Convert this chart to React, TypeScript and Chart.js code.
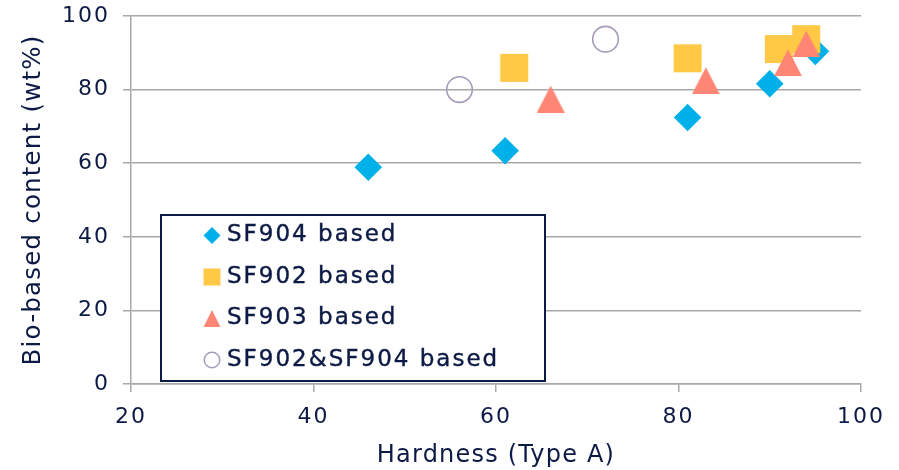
import React, { useEffect, useRef } from 'react';
import { Chart, registerables } from 'chart.js';

Chart.register(...registerables);

const seriesNames = ['SF904 based', 'SF902 based', 'SF903 based', 'SF902&SF904 based'];
const sf904X = [46, 61, 81, 90, 95];
const sf904Y = [58.9, 63.4, 72.4, 81.6, 90.4];
const sf902X = [62, 81, 91, 94];
const sf902Y = [85.9, 88.5, 91.0, 93.7];
const sf903X = [66, 83, 92, 94];
const sf903Y = [77.4, 82.4, 87.3, 92.4];
const blendX = [56, 72];
const blendY = [80, 93.7];
const xTicks = [20, 40, 60, 80, 100];
const yTicks = [0, 20, 40, 60, 80, 100];
const xTitle = 'Hardness (Type A)';
const yTitle = 'Bio-based content (wt%)';

const NAVY = '#0d1a45';
const GRID = '#a8a8a8';
const BLUE = '#00b0e8';
const YELLOW = '#ffc845';
const SALMON = '#ff8674';
const PURPLE = '#a69abb';
const FONT = "'DejaVu Sans', sans-serif";

function toPoints(xs: number[], ys: number[]) {
  return xs.map((x, i) => ({ x, y: ys[i] }));
}

function makeTriangle(w: number, h: number, color: string) {
  const c = document.createElement('canvas');
  c.width = w;
  c.height = h;
  const g = c.getContext('2d')!;
  g.fillStyle = color;
  g.beginPath();
  g.moveTo(w / 2, 0);
  g.lineTo(w, h);
  g.lineTo(0, h);
  g.closePath();
  g.fill();
  return c;
}

const spacingPlugin = {
  id: 'spacing',
  beforeDraw(chart: any) {
    chart.ctx.letterSpacing = '1.2px';
  },
  afterDatasetsDraw(chart: any) {
    chart.ctx.letterSpacing = '2px';
  },
};

const legendPlugin = {
  id: 'boxLegend',
  afterDraw(chart: any) {
    const ctx: CanvasRenderingContext2D = chart.ctx;
    ctx.save();
    ctx.letterSpacing = '0px';
    ctx.strokeStyle = NAVY;
    ctx.lineWidth = 2;
    ctx.fillStyle = '#ffffff';
    const bx = 161, by = 215, bw = 384, bh = 166;
    ctx.fillRect(bx, by, bw, bh);
    ctx.strokeRect(bx, by, bw, bh);
    const mx = 212;
    const y0 = 235.5;
    const step = 41.5;
    const s = 8.5;
    let cy = y0;
    ctx.fillStyle = BLUE;
    ctx.beginPath();
    ctx.moveTo(mx, cy - s);
    ctx.lineTo(mx + s, cy);
    ctx.lineTo(mx, cy + s);
    ctx.lineTo(mx - s, cy);
    ctx.closePath();
    ctx.fill();
    cy = y0 + step;
    ctx.fillStyle = YELLOW;
    ctx.fillRect(mx - s, cy - s, 2 * s, 2 * s);
    cy = y0 + 2 * step;
    ctx.fillStyle = SALMON;
    ctx.beginPath();
    ctx.moveTo(mx, cy - s);
    ctx.lineTo(mx + s, cy + s);
    ctx.lineTo(mx - s, cy + s);
    ctx.closePath();
    ctx.fill();
    cy = y0 + 3 * step;
    ctx.strokeStyle = PURPLE;
    ctx.lineWidth = 1.5;
    ctx.beginPath();
    ctx.arc(mx, cy, s - 0.75, 0, Math.PI * 2);
    ctx.stroke();
    ctx.letterSpacing = '2px';
    ctx.fillStyle = NAVY;
    ctx.strokeStyle = NAVY;
    ctx.lineWidth = 0.4;
    ctx.font = `23px ${FONT}`;
    ctx.textAlign = 'left';
    ctx.textBaseline = 'middle';
    seriesNames.forEach((name, i) => {
      ctx.fillText(name, 227, y0 + i * step);
      ctx.strokeText(name, 227, y0 + i * step);
    });
    ctx.restore();
  },
};

export default function App() {
  const ref = useRef<HTMLCanvasElement | null>(null);

  useEffect(() => {
    document.body.style.margin = '0';
    if (!ref.current) return;
    const tri = makeTriangle(28, 27, SALMON);
    const chart = new Chart(ref.current, {
      type: 'scatter',
      data: {
        datasets: [
          {
            label: seriesNames[0],
            data: toPoints(sf904X, sf904Y),
            pointStyle: 'rectRot',
            pointRadius: 13.8,
            pointHoverRadius: 13.8,
            backgroundColor: BLUE,
            borderColor: BLUE,
            borderWidth: 0,
            order: 4,
          },
          {
            label: seriesNames[1],
            data: toPoints(sf902X, sf902Y),
            pointStyle: 'rect',
            pointRadius: 19.8,
            pointHoverRadius: 19.8,
            backgroundColor: YELLOW,
            borderColor: YELLOW,
            borderWidth: 0,
            order: 3,
          },
          {
            label: seriesNames[2],
            data: toPoints(sf903X, sf903Y),
            pointStyle: tri,
            pointRadius: 14,
            backgroundColor: SALMON,
            borderColor: SALMON,
            borderWidth: 0,
            order: 2,
          },
          {
            label: seriesNames[3],
            data: toPoints(blendX, blendY),
            pointStyle: 'circle',
            pointRadius: 12.8,
            pointHoverRadius: 12.8,
            backgroundColor: 'rgba(255,255,255,0)',
            borderColor: PURPLE,
            borderWidth: 1.6,
            order: 1,
          },
        ],
      },
      options: {
        responsive: false,
        animation: false,
        events: [],
        layout: {
          autoPadding: false,
          padding: { left: 0, top: 16, right: 38, bottom: 0 },
        },
        plugins: {
          legend: { display: false },
          tooltip: { enabled: false },
        },
        scales: {
          x: {
            type: 'linear',
            min: xTicks[0],
            max: xTicks[xTicks.length - 1],
            afterBuildTicks: (scale: any) => {
              scale.ticks = xTicks.map((v) => ({ value: v }));
            },
            afterFit: (scale: any) => {
              scale.height = 86;
              scale.paddingLeft = 0;
              scale.paddingRight = 0;
              scale.paddingTop = 0;
              scale.paddingBottom = 0;
            },
            grid: {
              drawOnChartArea: false,
              drawTicks: true,
              tickLength: 8,
              color: GRID,
              lineWidth: 1.5,
            },
            border: { display: true, color: GRID, width: 1.5 },
            ticks: {
              z: 1,
              color: NAVY,
              padding: 12,
              maxRotation: 0,
              font: { family: FONT, size: 22 },
            },
            title: {
              display: true,
              text: xTitle,
              color: NAVY,
              padding: { top: 0, bottom: 0 },
              font: { family: FONT, size: 24 },
            },
          },
          y: {
            type: 'linear',
            min: yTicks[0],
            max: yTicks[yTicks.length - 1],
            afterBuildTicks: (scale: any) => {
              scale.ticks = yTicks.map((v) => ({ value: v }));
            },
            afterFit: (scale: any) => {
              scale.width = 131;
              scale.paddingLeft = 0;
              scale.paddingRight = 0;
              scale.paddingTop = 0;
              scale.paddingBottom = 0;
            },
            grid: {
              drawOnChartArea: true,
              drawTicks: true,
              tickLength: 8,
              color: GRID,
              lineWidth: 1.5,
            },
            border: { display: true, color: GRID, width: 1.5 },
            ticks: {
              z: 1,
              color: NAVY,
              padding: 13,
              font: { family: FONT, size: 22 },
            },
            title: {
              display: true,
              text: yTitle,
              color: NAVY,
              padding: { top: 19, bottom: 0 },
              font: { family: FONT, size: 24.5 },
            },
          },
        },
      },
      plugins: [spacingPlugin, legendPlugin],
    });
    return () => chart.destroy();
  }, []);

  return (
    <div style={{ width: 899, height: 470 }}>
      <canvas ref={ref} width={899} height={470} style={{ display: 'block' }} />
    </div>
  );
}
